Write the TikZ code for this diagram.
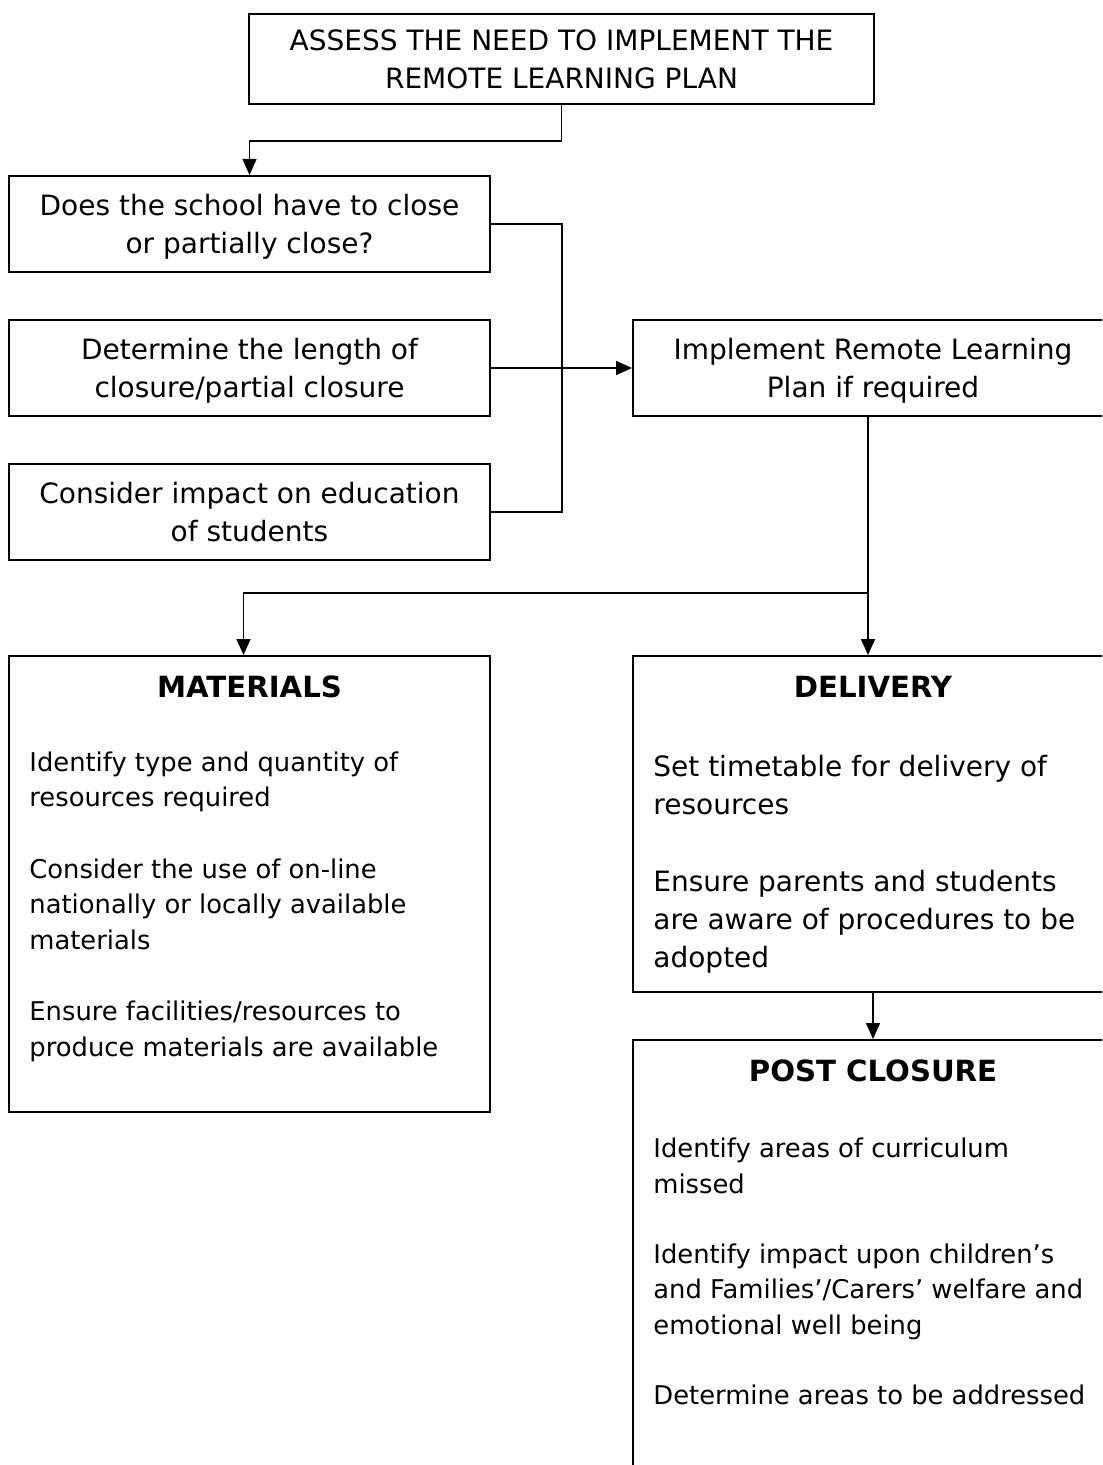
\documentclass[tikz,border=0pt]{standalone}
\usepackage{fontspec}
\setmainfont{DejaVu Sans}
\usetikzlibrary{arrows.meta, positioning}

\tikzset{
  box/.style={draw, line width=1pt, inner sep=0pt},
  big/.style={font=\fontsize{14}{19}\selectfont, align=center, text depth=0pt},
  head/.style={font=\fontsize{14.6}{18}\selectfont\bfseries, inner sep=0pt},
  body/.style={font=\fontsize{12.9}{17.75}\selectfont, align=left, anchor=base west, inner sep=0pt},
  link/.style={line width=0.8pt},
  arr/.style={link, -{Triangle[length=8pt, width=7pt]}}
}

\begin{document}
\begin{tikzpicture}[x=0.5pt, y=-0.5pt]
\useasboundingbox (0,0) rectangle (1102,1465);
\clip (0,0) rectangle (1102,1465);

% top of the chart
\node[box, big, minimum width=312.5pt, minimum height=45pt] (assess) at (561.5,59)
  {ASSESS THE NEED TO IMPLEMENT THE\\REMOTE LEARNING PLAN};
\node[box, big, minimum width=240.5pt, minimum height=48pt] (does) at (249.5,224)
  {Does the school have to close\\or partially close?};
\node[box, big, minimum width=240.5pt, minimum height=48pt] (det) at (249.5,368)
  {Determine the length of\\closure/partial closure};
\node[box, big, minimum width=240.5pt, minimum height=48pt] (cons) at (249.5,512)
  {Consider impact on education\\of students};
\node[box, big, minimum width=240pt, minimum height=48pt] (impl) at (873,368)
  {Implement Remote Learning\\Plan if required};

% the three panels
\node[box, minimum width=240.5pt, minimum height=228pt] (mat) at (249.5,884) {};
\node[box, minimum width=240pt, minimum height=168pt] (del) at (873,824) {};
\node[box, minimum width=240pt, minimum height=240pt] (post) at (873,1280) {};

\node[head] (matH) at ([yshift=-16pt]mat.north) {MATERIALS};
\node[head] (delH) at ([yshift=-16pt]del.north) {DELIVERY};
\node[head] (postH) at ([yshift=-16pt]post.north) {POST CLOSURE};

% base of each text is its last line
\node[body] (matT) at ([xshift=10.5pt, yshift=-200.5pt]mat.north west)
  {Identify type and quantity of\\resources required\\[18pt]
   Consider the use of on-line\\nationally or locally available\\materials\\[18pt]
   Ensure facilities/resources to\\produce materials are available};
\node[body, font=\fontsize{14}{19}\selectfont] (delT) at ([xshift=10.5pt, yshift=-156.25pt]del.north west)
  {Set timetable for delivery of\\resources\\[19.5pt]
   Ensure parents and students\\are aware of procedures to be\\adopted};
\node[body] (postT) at ([xshift=10.5pt, yshift=-182.5pt]post.north west)
  {Identify areas of curriculum\\missed\\[17.25pt]
   Identify impact upon children’s\\and Families’/Carers’ welfare and\\emotional well being\\[17.25pt]
   Determine areas to be addressed};

% connectors
\coordinate (join) at (562,368);
\coordinate (split) at (868,593);
\draw[arr] (assess.south) -- ++(0,36) -| (does.north);
\draw[link] (does.east) -| (join) |- (cons.east);
\draw[arr] (det.east) -- (impl.west);
\draw[link] (impl.south -| split) -- (split);
\draw[arr] (split) -| ([xshift=-3pt]mat.north);
\draw[arr] (split) -- (split |- del.north);
\draw[arr] (del.south) -- (post.north);
\end{tikzpicture}
\end{document}
